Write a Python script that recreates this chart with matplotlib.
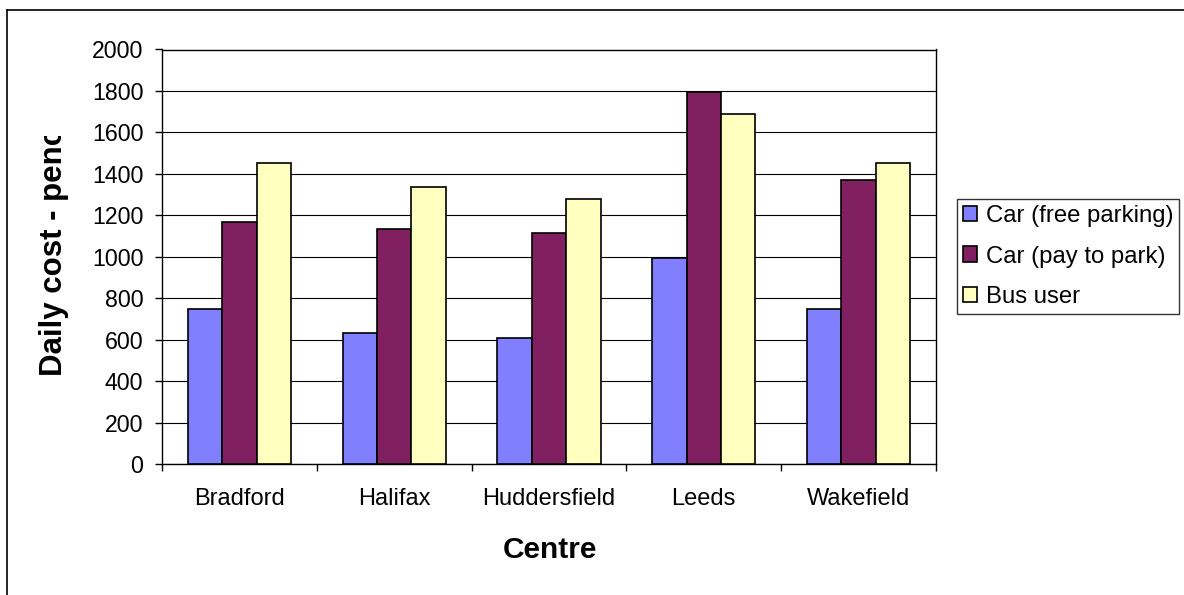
import matplotlib
matplotlib.use("Agg")
import matplotlib.pyplot as plt
from matplotlib.lines import Line2D
from matplotlib.transforms import Bbox, TransformedBbox
import numpy as np

plt.rcParams['font.family'] = ['Liberation Sans', 'DejaVu Sans']

# data
centres = ["Bradford", "Halifax", "Huddersfield", "Leeds", "Wakefield"]
car_free = [750, 630, 610, 995, 750]
car_pay = [1170, 1132, 1115, 1793, 1370]
bus_user = [1452, 1335, 1280, 1690, 1452]
series_names = ["Car (free parking)", "Car (pay to park)", "Bus user"]
colours = ["#8080FF", "#802060", "#FFFFC0"]

W, H = 1184, 595
fig = plt.figure(figsize=(W / 100, H / 100), dpi=100)
fig.patch.set_facecolor("white")

# plot area in pixels -> figure fraction
ax = fig.add_axes([162 / W, 1 - 464 / H, (936 - 162) / W, (464 - 49.5) / H])

x = np.arange(len(centres))
bw = 1 / 4.5
for i, (vals, name, col) in enumerate(zip([car_free, car_pay, bus_user], series_names, colours)):
    ax.bar(x + (i - 1) * bw, vals, width=bw, color=col, edgecolor="black",
           linewidth=1.2, label=name, zorder=3)

ax.set_xlim(-0.5, len(centres) - 0.5)
ax.set_ylim(0, 2000)
ax.set_yticks(range(0, 2001, 200))
ax.yaxis.grid(True, color="black", linewidth=0.8, zorder=0)
ax.set_axisbelow(True)

ax.set_xticks(x)
ax.set_xticklabels(centres, fontsize=17)
ax.set_xticks(np.arange(-0.5, len(centres), 1), minor=True)
ax.tick_params(axis="x", which="major", length=0, pad=17)
ax.tick_params(axis="x", which="minor", length=5, width=1, direction="out")
ax.tick_params(axis="y", length=5, width=1, labelsize=16.7, pad=8.5)

for s in ax.spines.values():
    s.set_color("black")
    s.set_linewidth(1)

# y label, clipped at the top like the original
ylab = fig.text(54 / W, 1 - 376 / H, "Daily cost - pence", rotation=90,
                ha="center", va="bottom", fontsize=22.5, fontweight="bold")
ylab.set_clip_box(TransformedBbox(Bbox([[0, 0], [1, 1 - 136 / H]]), fig.transFigure))
ylab.set_clip_on(True)

fig.text(550 / W, 1 - 550 / H, "Centre", ha="center", va="center",
         fontsize=21.5, fontweight="bold")

leg = fig.legend(loc="center left", bbox_to_anchor=(957 / W, 1 - 256.5 / H),
                 fontsize=17.2, frameon=True, fancybox=False, shadow=False,
                 handlelength=0.6, handleheight=0.6, handletextpad=0.35,
                 labelspacing=0.77, borderpad=0.25, borderaxespad=0)
leg.get_frame().set_edgecolor("black")
leg.get_frame().set_linewidth(1)

# outer chart border (only top and left visible in the crop)
fig.add_artist(Line2D([7 / W, 1], [1 - 9.5 / H, 1 - 9.5 / H], color="black",
                      linewidth=1.2, transform=fig.transFigure))
fig.add_artist(Line2D([7 / W, 7 / W], [0, 1 - 9.5 / H], color="black",
                      linewidth=1.2, transform=fig.transFigure))

fig.savefig("out.png", dpi=100)
